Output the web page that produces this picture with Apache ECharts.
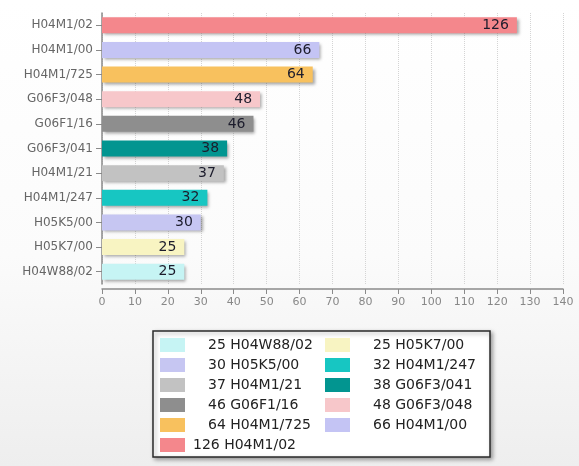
<!DOCTYPE html>
<html>
<head>
<meta charset="utf-8">
<script src="https://cdn.jsdelivr.net/npm/echarts@6/dist/echarts.min.js"></script>
<style>
  html, body { margin: 0; padding: 0; }
  #chart { width: 579px; height: 466px; }
</style>
</head>
<body>
<div id="chart"></div>
<script>
// IPC classes, top to bottom
const categories = ['H04M1/02', 'H04M1/00', 'H04M1/725', 'G06F3/048', 'G06F1/16',
  'G06F3/041', 'H04M1/21', 'H04M1/247', 'H05K5/00', 'H05K7/00', 'H04W88/02'];
const counts = [126, 66, 64, 48, 46, 38, 37, 32, 30, 25, 25];
const barColors = ['#f4878c', '#c4c4f4', '#f8c15e', '#f7c7ca', '#8e8e8e',
  '#029590', '#c2c2c2', '#17c6c2', '#c6c6f2', '#f8f4c2', '#c6f4f4'];
const xTicks = [0, 10, 20, 30, 40, 50, 60, 70, 80, 90, 100, 110, 120, 130, 140];

const FONT = 'DejaVu Sans';

// one series per class so each gets its own legend entry
const series = categories.map((name, i) => ({
  name: name,
  type: 'bar',
  stack: 'all',
  barWidth: 16,
  data: categories.map((_, j) => (j === i ? counts[i] : '-')),
  itemStyle: {
    color: barColors[i],
    shadowColor: 'rgba(0,0,0,0.35)',
    shadowBlur: 3,
    shadowOffsetX: 2,
    shadowOffsetY: 2
  },
  label: {
    show: true,
    position: 'insideRight',
    distance: 8,
    color: '#1c1c2c',
    fontFamily: FONT,
    fontSize: 14
  }
}));

// legend lists classes in ascending order of count
const legendOrder = categories.slice().reverse();

const chart = echarts.init(document.getElementById('chart'));
chart.setOption({
  animation: false,
  backgroundColor: {
    type: 'linear', x: 0, y: 0, x2: 0, y2: 1,
    colorStops: [{ offset: 0, color: '#ffffff' }, { offset: 0.55, color: '#fbfbfb' }, { offset: 1, color: '#eeeeee' }]
  },
  grid: { left: 102, top: 13, width: 461, height: 271, containLabel: false },
  xAxis: {
    type: 'value',
    min: xTicks[0],
    max: xTicks[xTicks.length - 1],
    interval: 10,
    offset: 5,
    axisLine: { show: true, lineStyle: { color: '#8a8a8a', width: 1.5 } },
    axisTick: { show: true, length: 5, lineStyle: { color: '#8a8a8a' } },
    axisLabel: { color: '#888', fontFamily: FONT, fontSize: 11, margin: 8 },
    splitLine: { show: true, lineStyle: { color: '#d4d4d4', type: 'dotted' } }
  },
  yAxis: {
    type: 'category',
    inverse: true,
    data: categories,
    axisLine: { show: true, lineStyle: { color: '#8a8a8a', width: 1.5 } },
    axisTick: { show: true, alignWithLabel: true, length: 6, lineStyle: { color: '#8a8a8a' } },
    axisLabel: { color: '#666', fontFamily: FONT, fontSize: 12, margin: 9 }
  },
  legend: {
    data: legendOrder,
    left: 153,
    top: 331,
    width: 330,
    orient: 'horizontal',
    padding: [6, 4, 4, 7],
    itemGap: 4,
    itemWidth: 25,
    itemHeight: 14,
    icon: 'rect',
    backgroundColor: '#ffffff',
    borderColor: '#2a2a2a',
    borderWidth: 1.5,
    shadowColor: 'rgba(0,0,0,0.35)',
    shadowBlur: 4,
    shadowOffsetX: 2,
    shadowOffsetY: 2,
    selectedMode: false,
    itemStyle: { shadowBlur: 0, shadowOffsetX: 0, shadowOffsetY: 0, borderWidth: 0 },
    formatter: function (name) {
      const v = counts[categories.indexOf(name)];
      const pad = v >= 100 ? 's2' : 's';
      return '{' + pad + '| }{t|' + v + ' ' + name + '}';
    },
    textStyle: {
      width: 131,
      lineHeight: 16,
      fontFamily: FONT,
      fontSize: 14,
      color: '#222',
      rich: {
        s: { width: 18 },
        s2: { width: 3 },
        t: { fontFamily: FONT, fontSize: 14, color: '#222' }
      }
    }
  },
  series: series
});
</script>
</body>
</html>
